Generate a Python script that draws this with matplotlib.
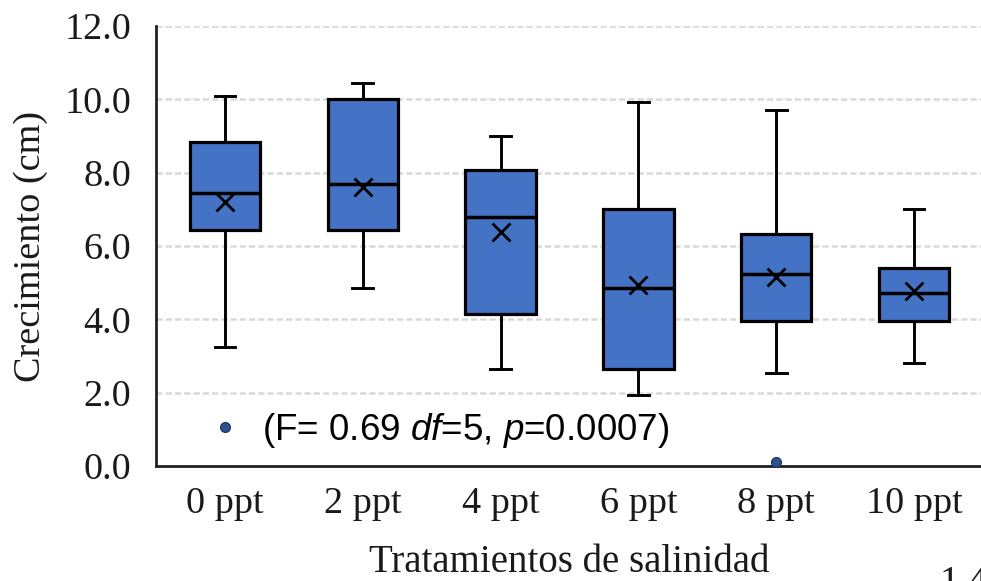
import matplotlib
matplotlib.use("Agg")
import matplotlib.pyplot as plt
from matplotlib.lines import Line2D
from matplotlib.ticker import FormatStrFormatter

# ---- data ----
categories = ["0 ppt", "2 ppt", "4 ppt", "6 ppt", "8 ppt", "10 ppt"]
whisker_low = [3.25, 4.85, 2.65, 1.95, 2.55, 2.8]
q1 = [6.45, 6.45, 4.15, 2.65, 3.95, 3.95]
median = [7.45, 7.7, 6.8, 4.85, 5.25, 4.72]
mean = [7.2, 7.6, 6.37, 4.95, 5.15, 4.77]
q3 = [8.85, 10.0, 8.07, 7.0, 6.32, 5.4]
whisker_high = [10.1, 10.45, 9.0, 9.93, 9.7, 7.0]
outliers = [[], [], [], [], [0.1], []]
annotation = "(F= 0.69 $df$=5, $p$=0.0007)"

plt.rcParams["mathtext.fontset"] = "custom"
plt.rcParams["mathtext.rm"] = "Liberation Sans"
plt.rcParams["mathtext.it"] = "Liberation Sans:italic"

serif = "Liberation Serif"
box_color = "#4472C4"
dot_color = "#2F528F"

fig = plt.figure(figsize=(9.81, 5.81), dpi=100)
ax = fig.add_axes([156 / 981, 1 - 466 / 581, 827 / 981, (466 - 26) / 581])

stats = []
for i, name in enumerate(categories):
    stats.append(dict(label=name, whislo=whisker_low[i], q1=q1[i], med=median[i],
                      q3=q3[i], whishi=whisker_high[i], mean=mean[i],
                      fliers=outliers[i]))

positions = list(range(len(categories)))
bp = ax.bxp(stats, positions=positions, widths=0.51, patch_artist=True,
            showmeans=True, showfliers=True, capwidths=0.15,
            boxprops=dict(facecolor=box_color, edgecolor="black", linewidth=2.3),
            medianprops=dict(color="black", linewidth=2.5),
            whiskerprops=dict(color="black", linewidth=2.1),
            capprops=dict(color="black", linewidth=2.1),
            meanprops=dict(marker="x", markeredgecolor="black", markersize=13,
                           markeredgewidth=2.0),
            flierprops=dict(marker="o", markerfacecolor=dot_color,
                            markeredgecolor="#1F3864", markersize=7,
                            markeredgewidth=1.0))
for f in bp["fliers"]:
    f.set_clip_on(False)
    f.set_zorder(5)

ax.set_xlim(-0.5, len(categories) - 0.5)
ax.set_ylim(0, 12)
ax.set_yticks([0, 2, 4, 6, 8, 10, 12])
ax.yaxis.set_major_formatter(FormatStrFormatter("%.1f"))
ax.yaxis.grid(True, color="#D9D9D9", linestyle=(0, (2.5, 1.2)), linewidth=1.8)
ax.set_axisbelow(True)

for s in ["top", "right"]:
    ax.spines[s].set_visible(False)
for s in ["left", "bottom"]:
    ax.spines[s].set_linewidth(2.0)
    ax.spines[s].set_color("#222222")

ax.tick_params(axis="both", length=0, labelsize=27.5)
ax.tick_params(axis="y", pad=18)
ax.tick_params(axis="x", pad=15)
for lbl in ax.get_xticklabels() + ax.get_yticklabels():
    lbl.set_fontfamily(serif)
    lbl.set_color("#1a1a1a")

ax.set_ylabel("Crecimiento (cm)", fontfamily=serif, fontsize=27.5, va="center",
              color="#1a1a1a")
ax.yaxis.set_label_coords(-0.152, 0.5)
ax.set_xlabel("Tratamientos de salinidad", fontfamily=serif, fontsize=28,
              color="#1a1a1a")
ax.xaxis.set_label_coords(0.5, -0.178)

handle = Line2D([], [], linestyle="none", marker="o", markerfacecolor=dot_color,
                markeredgecolor="#1F3864", markersize=7, markeredgewidth=1.0)
fig.legend([handle], [annotation], loc="center left",
           bbox_to_anchor=(210 / 981, 1 - 430 / 581), frameon=False,
           prop=dict(family="Liberation Sans", size=26.5),
           handlelength=0.8, handletextpad=0.6, borderpad=0, borderaxespad=0)

# partially visible text at the bottom-right edge (cut off in the reference too)
fig.text(940 / 981, 1 - 593 / 581, "1.4", fontfamily=serif, fontsize=28,
         ha="left", va="baseline", color="#1a1a1a")

fig.savefig("out.png", dpi=100)
